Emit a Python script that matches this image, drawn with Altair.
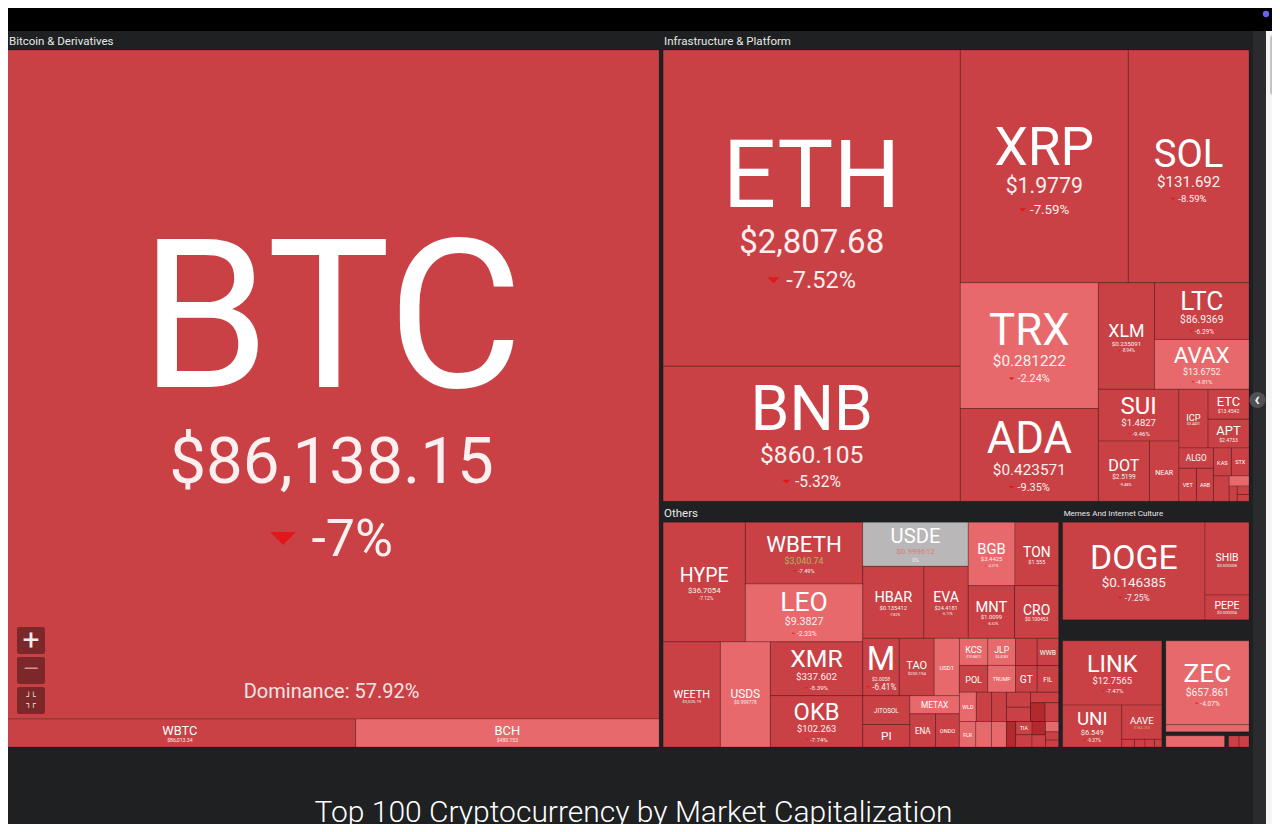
import altair as alt
import pandas as pd

# ------------------------------------------------------------------ data
# weights are the tile sizes (relative area units)
group_names = ["Bitcoin & Derivatives", "Infrastructure & Platform", "Others",
               "Memes And Internet Culture", "Decentralized Finance", "Privacy",
               "Real World Assets", "Artificial Intelligence"]

btc_symbols = ["BTC", "WBTC", "BCH"]
btc_weights = [454.2, 10.2, 8.8]
btc_prices = ["$86,138.15", "$86,013.34", "$480.153"]
btc_changes = [-7.00, -6.95, -3.81]

infra_symbols = ["ETH", "BNB", "XRP", "SOL", "TRX", "ADA", "XLM", "LTC", "AVAX", "SUI",
                 "DOT", "NEAR", "ICP", "ETC", "APT", "ALGO", "VET", "ARB", "KAS", "STX",
                 "ONT", "QNT", "IOTA", "XTZ", "EGLD"]
infra_weights = [99.0, 42.3, 41.2, 29.6, 18.3, 13.5, 6.3, 5.65, 4.95, 4.4,
                 3.24, 1.87, 1.8, 1.29, 1.24, 0.74, 0.61, 0.59, 0.53, 0.52,
                 0.42, 0.21, 0.13, 0.105, 0.085]
infra_prices = ["$2,807.68", "$860.105", "$1.9779", "$131.692", "$0.281222", "$0.423571",
                "$0.235091", "$86.9369", "$13.6752", "$1.4827", "$2.5199", "$1.6687",
                "$3.4431", "$13.4542", "$2.4733", "$0.1328", "$0.0132", "$0.2014",
                "$0.0489", "$0.3051", "$0.0851", "$78.412", "$0.1187", "$0.5212", "$9.6105"]
infra_changes = [-7.52, -5.32, -7.59, -8.59, -2.24, -9.35, -8.94, -6.29, -4.81, -9.46,
                 -9.48, -8.61, -8.22, -7.71, -8.43, -8.82, -8.51, -9.12, -7.93, -9.64,
                 -8.31, -3.52, -8.74, -8.23, -9.05]

others_symbols = ["HYPE", "WBETH", "LEO", "WEETH", "USDS", "XMR", "OKB", "USDE", "HBAR",
                  "EVA", "BGB", "TON", "MNT", "CRO", "M", "TAO", "USD1", "JITOSOL", "PI",
                  "METAX", "ENA", "ONDO", "KCS", "POL", "JLP", "TRUMP", "BNSOL", "WWB", "GT",
                  "FIL", "WLD", "XDC", "PUMP", "FLR", "SKY", "XAUT", "LSETH", "RSETH",
                  "SEI", "INJ", "IMX", "BONK", "TIA", "OP", "PENGU", "JUP", "PYUSD", "CAKE", "GRT"]
others_weights = [10.86, 8.0, 7.5, 6.65, 5.8, 5.49, 5.24, 5.13, 4.86,
                  3.53, 3.27, 3.06, 2.69, 2.56, 2.32, 2.21, 1.6, 1.5, 1.17,
                  0.99, 0.94, 0.87, 0.85, 0.84, 0.83, 0.82, 0.65, 0.645, 0.635,
                  0.63, 0.55, 0.5, 0.48, 0.46, 0.44, 0.42, 0.40, 0.38,
                  0.33, 0.3, 0.28, 0.26, 0.24, 0.22, 0.2, 0.18, 0.15, 0.12, 0.1]
others_prices = ["$36.7054", "$3,040.74", "$9.3827", "$3,025.19", "$0.999778", "$337.602",
                 "$102.263", "$0.999612", "$0.135412", "$24.4181", "$3.4425", "$1.555",
                 "$1.0099", "$0.100453", "$2.0058", "$250.194", "$0.999521", "$166.225",
                 "$0.226172", "$8.8712", "$0.242136", "$0.458314", "$10.8812", "$0.132105",
                 "$4.4183", "$5.6147", "$140.882", "$0.8957", "$10.1823", "$1.5763",
                 "$0.5931", "$0.0512", "$0.002761", "$0.0132", "$0.0601", "$4,118.52",
                 "$2,968.11", "$2,945.27", "$0.1412", "$5.8113", "$0.2873", "$0.0000089",
                 "$0.5922", "$0.3061", "$0.009412", "$0.2214", "$0.9998", "$2.0215", "$0.0477"]
others_changes = [-7.12, -7.49, -2.33, -7.54, -0.02, -8.39, -7.74, 0.00, -7.82,
                  -6.11, -4.31, -6.62, -8.32, -8.09, -6.41, -7.93, -0.05, -8.12, -5.83,
                  -1.21, -9.24, -8.41, -3.92, -9.61, -3.21, -4.12, -8.14, -6.23, -6.62,
                  -9.24, -4.51, -7.12, -8.83, -4.23, -3.11, -0.84, -7.51, -7.33,
                  -9.13, -10.42, -8.52, -11.2, -9.7, -8.1, -12.3, -7.7, -0.01, -6.9, -8.6]

meme_symbols = ["DOGE", "SHIB", "PEPE"]
meme_weights = [17.24, 3.97, 1.36]
meme_prices = ["$0.146385", "$0.000008", "$0.000004"]
meme_changes = [-7.25, -7.91, -8.62]

defi_symbols = ["LINK", "UNI", "AAVE", "CRV", "PENDLE", "MORPHO", "SYRUP"]
defi_weights = [7.94, 3.09, 1.71, 0.12, 0.10, 0.09, 0.07]
defi_prices = ["$12.7565", "$6.549", "$184.253", "$0.3841", "$2.4712", "$1.5213", "$0.3702"]
defi_changes = [-7.47, -9.37, -8.12, -9.8, -8.4, -7.6, -6.8]

priv_symbols = ["ZEC", "DASH"]
priv_weights = [9.0, 0.76]
priv_prices = ["$657.861", "$58.214"]
priv_changes = [-4.07, -3.30]

rwa_symbols = ["PAXG"]
rwa_weights = [0.95]
rwa_prices = ["$4,121.33"]
rwa_changes = [-0.92]

ai_symbols = ["FET", "RENDER"]
ai_weights = [0.19, 0.18]
ai_prices = ["$0.2512", "$1.6811"]
ai_changes = [-9.2, -8.9]

btc_dominance = 57.92
title_text = "Top 100 Cryptocurrency by Market Capitalization"

# ------------------------------------------------------------------ style
BG = "#1f2021"
COLOR_DOMAIN = [-10, -5, 0]
COLOR_RANGE = ["#b3292d", "#c94145", "#e8696b", "#b9b7b7"]
FLASH = {"WBETH": "#b8b25e", "USDE": "#d77d7a", "AAVE": "#e0a36a"}
FONT = "Roboto"
AREA = (2.0, 31.0, 1251.0, 749.0)   # treemap extent in page pixels
HEADER, INSET = 19.0, 2.0

groups = [
    (group_names[0], btc_symbols, btc_weights, btc_prices, btc_changes),
    (group_names[1], infra_symbols, infra_weights, infra_prices, infra_changes),
    (group_names[2], others_symbols, others_weights, others_prices, others_changes),
    (group_names[3], meme_symbols, meme_weights, meme_prices, meme_changes),
    (group_names[4], defi_symbols, defi_weights, defi_prices, defi_changes),
    (group_names[5], priv_symbols, priv_weights, priv_prices, priv_changes),
    (group_names[6], rwa_symbols, rwa_weights, rwa_prices, rwa_changes),
    (group_names[7], ai_symbols, ai_weights, ai_prices, ai_changes),
]


# ------------------------------------------------------------------ treemap (binary tiling)
def binary_layout(values, x0, y0, x1, y1):
    n = len(values)
    sums = [0.0]
    for v in values:
        sums.append(sums[-1] + v)
    out = [None] * n

    def part(i, j, value, x0, y0, x1, y1):
        if i >= j - 1:
            out[i] = (x0, y0, x1, y1)
            return
        offset = sums[i]
        target = value / 2 + offset
        k, hi = i + 1, j - 1
        while k < hi:
            mid = (k + hi) // 2
            if sums[mid] < target:
                k = mid + 1
            else:
                hi = mid
        if (target - sums[k - 1]) < (sums[k] - target) and i + 1 < k:
            k -= 1
        vl = sums[k] - offset
        vr = value - vl
        if (x1 - x0) > (y1 - y0):
            xk = (x0 * vr + x1 * vl) / value if value else x1
            part(i, k, vl, x0, y0, xk, y1)
            part(k, j, vr, xk, y0, x1, y1)
        else:
            yk = (y0 * vr + y1 * vl) / value if value else y1
            part(i, k, vl, x0, y0, x1, yk)
            part(k, j, vr, x0, yk, x1, y1)

    part(0, n, sums[n], x0, y0, x1, y1)
    return out


def em_width(s):
    w = 0.0
    for ch in s:
        if ch.isdigit():
            w += 0.562
        elif ch in ".,":
            w += 0.26
        elif ch == "-":
            w += 0.28
        elif ch == "%":
            w += 0.73
        elif ch == "$":
            w += 0.56
        else:
            w += 0.62
    return w


def fmt_change(c):
    s = f"{c:.2f}".rstrip("0").rstrip(".")
    if s in ("-0", ""):
        s = "0"
    return s + "%"


gvals = [sum(g[2]) for g in groups]
gorder = sorted(range(len(groups)), key=lambda i: -gvals[i])
grects = binary_layout([gvals[i] for i in gorder], *AREA)

tiles, headers = [], []
for gi, (gx0, gy0, gx1, gy1) in zip(gorder, grects):
    name, syms, wts, prices, chgs = groups[gi]
    top = HEADER if (gy1 - gy0) > 40 else INSET
    gw = gx1 - gx0
    if gw > 150 and (gy1 - gy0) > 40:
        headers.append(dict(x=max(gx0 + 3, 9.0), y=gy0 + 10.5, text=name,
                            fs=11.5 if gw > 300 else 8))
    idx = sorted(range(len(syms)), key=lambda i: -wts[i])
    rects = binary_layout([wts[i] for i in idx], gx0 + INSET, gy0 + top, gx1 - INSET, gy1 - INSET)
    for i, (x0, y0, x1, y1) in zip(idx, rects):
        tiles.append(dict(sym=syms[i], price=prices[i], change=chgs[i], group=name,
                          x0=x0, y0=y0, x1=x1, y1=y1))

tiles_df = pd.DataFrame(tiles)

GAP_S, GAP_P = 0.24, 0.55
sym_rows, price_rows, chg_rows, tri_rows = [], [], [], []
for t in tiles:
    w, h = t["x1"] - t["x0"], t["y1"] - t["y0"]
    if h < 13:
        continue
    cx, cy = (t["x0"] + t["x1"]) / 2, (t["y0"] + t["y1"]) / 2
    s = 0.95 * w / len(t["sym"])
    p = min(w / len(t["price"]), 0.4 * s)
    c = 0.25 * s
    H = 0.71 * s + GAP_S * s + 0.71 * p + GAP_P * p + 0.71 * c
    if H > 0.75 * h:
        f = 0.75 * h / H
        s, p, c, H = s * f, p * f, c * f, H * f
    if s < 5:
        continue
    show_p = p >= 3.5
    show_c = show_p and c >= 3.5
    H = 0.71 * s + ((GAP_S * s + 0.71 * p) if show_p else 0) + ((GAP_P * p + 0.71 * c) if show_c else 0)
    top = cy + 0.02 * h - H / 2
    sb = top + 0.71 * s
    sym_rows.append(dict(x=cx, y=sb, text=t["sym"], fs=s))
    if show_p:
        pb = sb + GAP_S * s + 0.71 * p
        price_rows.append(dict(x=cx, y=pb, text=t["price"], fs=p,
                               col=FLASH.get(t["sym"], "#fbefef")))
        if show_c:
            cb = pb + GAP_P * p + 0.71 * c
            lab = fmt_change(t["change"])
            lw = em_width(lab) * c
            neg = t["change"] < 0
            tw, gap = 0.5 * c, 0.3 * c
            total = (tw + gap + lw) if neg else lw
            start = cx - total / 2
            if neg:
                tri_rows.append(dict(x=start + tw / 2, y=cb - 0.34 * c, size=tw * tw))
                chg_rows.append(dict(x=start + tw + gap, y=cb, text=lab, fs=c))
            else:
                chg_rows.append(dict(x=start, y=cb, text=lab, fs=c))

sym_df = pd.DataFrame(sym_rows)
price_df = pd.DataFrame(price_rows)
chg_df = pd.DataFrame(chg_rows)
tri_df = pd.DataFrame(tri_rows)
head_df = pd.DataFrame(headers)

btc = next(t for t in tiles if t["sym"] == "BTC")
dom_df = pd.DataFrame([dict(x=(btc["x0"] + btc["x1"]) / 2, y=btc["y1"] - 27,
                            text=f"Dominance: {btc_dominance:.2f}%")])
bx, by = btc["x0"], btc["y1"]
btn_df = pd.DataFrame([dict(x0=bx + 13, x1=bx + 41, y0=by - 92 + 30 * k, y1=by - 65 + 30 * k)
                       for k in range(3)])
pm_df = pd.DataFrame([
    dict(x=bx + 27, y=by - 78.5, text="+", fs=30, col="#f4e9e9"),
    dict(x=bx + 27, y=by - 49.5, text="\u2014", fs=20, col="#d88f90"),
])
icon_df = pd.DataFrame([
    dict(x=bx + 27, y=by - 22.5, text="\u2518\u2514", fs=8, col="#f4e9e9"),
    dict(x=bx + 27, y=by - 15.5, text="\u2510\u250c", fs=8, col="#f4e9e9"),
])

title_df = pd.DataFrame([dict(x=633.5, y=822, text=title_text)])

chrome_df = pd.DataFrame([
    dict(x0=0, x1=1280, y0=0, y1=AREA[1], fill="#000000"),
    dict(x0=AREA[2] + 2, x1=1266, y0=AREA[1], y1=832, fill="#2a2b2c"),
    dict(x0=1266, x1=1280, y0=AREA[1], y1=832, fill="#f4f4f4"),
])
thumb_df = pd.DataFrame([dict(x0=1270, x1=1276, y0=AREA[1] + 4, y1=AREA[1] + 64)])
dot_df = pd.DataFrame([dict(x=1266, y=14, fill="#6464f2", size=40),
                       dict(x=1257.5, y=400, fill="#505152", size=260)])
chev_df = pd.DataFrame([dict(x=1257, y=400, text="\u2039")])

# ------------------------------------------------------------------ chart
XS = alt.Scale(domain=[0, 1280], range=[-8, 1272], nice=False, zero=False)
YS = alt.Scale(domain=[0, 832], range=[-8, 824], nice=False, zero=False)


def X(f):
    return alt.X(f, type="quantitative", scale=XS, axis=None)


def Y(f):
    return alt.Y(f, type="quantitative", scale=YS, axis=None)


chrome = alt.Chart(chrome_df).mark_rect().encode(
    x=X("x0"), x2="x1", y=Y("y0"), y2="y1", color=alt.Color("fill:N", scale=None))

thumb = alt.Chart(thumb_df).mark_rect(cornerRadius=3, color="#c3c3c3").encode(
    x=X("x0"), x2="x1", y=Y("y0"), y2="y1")

dots = alt.Chart(dot_df).mark_point(filled=True, shape="circle", opacity=1).encode(
    x=X("x"), y=Y("y"), color=alt.Color("fill:N", scale=None),
    size=alt.Size("size:Q", scale=None))

chev = alt.Chart(chev_df).mark_text(font=FONT, fontSize=18, fontWeight="bold", color="#ffffff",
                                    align="center", baseline="middle").encode(
    x=X("x"), y=Y("y"), text="text:N")

tiles_layer = alt.Chart(tiles_df).mark_rect(stroke="#000000", strokeOpacity=0.2, strokeWidth=1).encode(
    x=X("x0"), x2="x1", y=Y("y0"), y2="y1",
    color=alt.Color("change:Q", scale=alt.Scale(type="threshold", domain=COLOR_DOMAIN,
                                                range=COLOR_RANGE), legend=None))

buttons = alt.Chart(btn_df).mark_rect(color="#000000", opacity=0.38, cornerRadius=2).encode(
    x=X("x0"), x2="x1", y=Y("y0"), y2="y1")

plus_minus = alt.Chart(pm_df).mark_text(font=FONT, align="center", baseline="middle").encode(
    x=X("x"), y=Y("y"), text="text:N", size=alt.Size("fs:Q", scale=None),
    color=alt.Color("col:N", scale=None))

corner_icon = alt.Chart(icon_df).mark_text(font="DejaVu Sans Mono", align="center",
                                           baseline="middle").encode(
    x=X("x"), y=Y("y"), text="text:N", size=alt.Size("fs:Q", scale=None),
    color=alt.Color("col:N", scale=None))

sym_layer = alt.Chart(sym_df).mark_text(font=FONT, align="center", baseline="alphabetic",
                                        color="#ffffff").encode(
    x=X("x"), y=Y("y"), text="text:N", size=alt.Size("fs:Q", scale=None))

price_layer = alt.Chart(price_df).mark_text(font=FONT, align="center", baseline="alphabetic").encode(
    x=X("x"), y=Y("y"), text="text:N", size=alt.Size("fs:Q", scale=None),
    color=alt.Color("col:N", scale=None))

chg_layer = alt.Chart(chg_df).mark_text(font=FONT, align="left", baseline="alphabetic",
                                        color="#fbefef").encode(
    x=X("x"), y=Y("y"), text="text:N", size=alt.Size("fs:Q", scale=None))

tri_layer = alt.Chart(tri_df).mark_point(shape="M-1,-0.5L1,-0.5L0,0.5Z", filled=True,
                                         color="#e3161b", opacity=1, strokeWidth=0).encode(
    x=X("x"), y=Y("y"), size=alt.Size("size:Q", scale=None))

head_layer = alt.Chart(head_df).mark_text(font=FONT, align="left", baseline="middle",
                                          color="#e8e8e8").encode(
    x=X("x"), y=Y("y"), text="text:N", size=alt.Size("fs:Q", scale=None))

dom_layer = alt.Chart(dom_df).mark_text(font=FONT, fontSize=20, align="center", baseline="middle",
                                        color="#f6e4e4").encode(
    x=X("x"), y=Y("y"), text="text:N")

title_layer = alt.Chart(title_df).mark_text(font=FONT, fontSize=30, fontWeight=300, align="center",
                                            baseline="alphabetic", color="#ffffff").encode(
    x=X("x"), y=Y("y"), text="text:N")

chart = alt.layer(
    chrome, thumb, tiles_layer, buttons, plus_minus, corner_icon,
    sym_layer, price_layer, chg_layer, tri_layer, head_layer, dom_layer,
    title_layer, dots, chev,
).properties(
    width=1264, height=816, padding=0, background=BG,
    autosize=alt.AutoSizeParams(type="none"),
).configure_view(stroke=None)

chart.save("out.html", embed_options={"renderer": "svg", "actions": False})
